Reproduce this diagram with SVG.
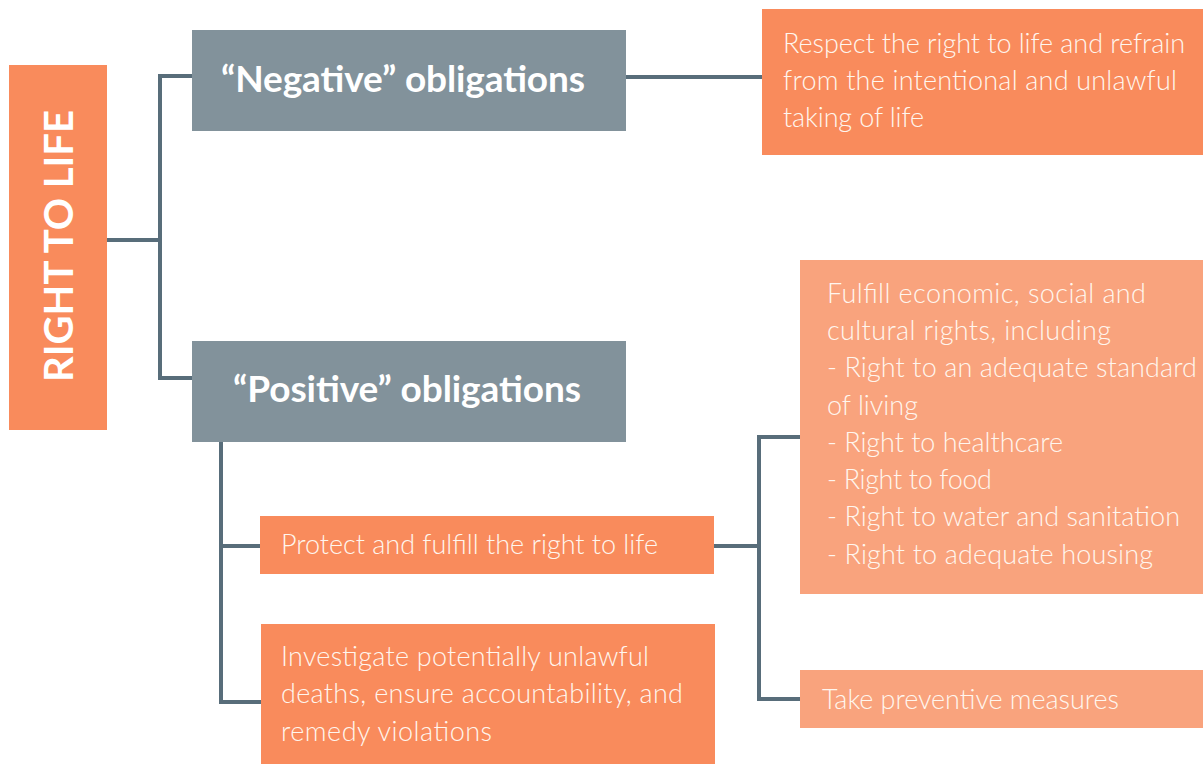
<svg xmlns="http://www.w3.org/2000/svg" width="1203" height="764" viewBox="0 0 1203 764">
<style>
.o{fill:#F98B5C}
.l{fill:#F9A37D}
.g{fill:#82929B}
.t{font-family:Lato,"Open Sans",sans-serif;font-weight:300;font-size:27px;fill:#FFF6EE}
.h{font-family:Lato,"Open Sans",sans-serif;font-weight:700;font-size:37px;fill:#FFFFFF}
.c{stroke:#586D7A;stroke-width:4;fill:none}
</style>
<rect width="1203" height="764" fill="#FFFFFF"/>
<g id="connectors">
<polyline class="c" points="107,240 160,240"/>
<polyline class="c" points="192,76 160,76 160,378 192,378"/>
<polyline class="c" points="626,77 762,77"/>
<polyline class="c" points="221,442 221,702 261,702"/>
<polyline class="c" points="221,546 260,546"/>
<polyline class="c" points="714,546 759,546"/>
<polyline class="c" points="800,437 759,437 759,699 800,699"/>
</g>
<g id="right-to-life">
<rect class="o" x="9" y="65" width="98" height="365"/>
<text class="h" style="font-size:40px" transform="translate(73,246) rotate(-90)" text-anchor="middle" textLength="272">RIGHT TO LIFE</text>
</g>
<g id="negative">
<rect class="g" x="192" y="30" width="434" height="101"/>
<text class="h" x="221" y="92" textLength="364">“Negative” obligations</text>
</g>
<g id="positive">
<rect class="g" x="192" y="341" width="434" height="101"/>
<text class="h" x="233" y="402" textLength="348">“Positive” obligations</text>
</g>
<g id="respect">
<rect class="o" x="762" y="9" width="441" height="146"/>
<text class="t" x="783" y="53" textLength="402">Respect the right to life and refrain</text>
<text class="t" x="783" y="90" textLength="394">from the intentional and unlawful</text>
<text class="t" x="783" y="127" textLength="141">taking of life</text>
</g>
<g id="fulfill">
<rect class="l" x="800" y="260" width="403" height="334"/>
<text class="t" x="827" y="303" textLength="319">Fulfill economic, social and</text>
<text class="t" x="827" y="340" textLength="284">cultural rights, including</text>
<text class="t" x="827" y="377" textLength="370">- Right to an adequate standard</text>
<text class="t" x="827" y="415" textLength="91">of living</text>
<text class="t" x="827" y="452" textLength="236">- Right to healthcare</text>
<text class="t" x="827" y="489" textLength="165">- Right to food</text>
<text class="t" x="827" y="526" textLength="353">- Right to water and sanitation</text>
<text class="t" x="827" y="564" textLength="326">- Right to adequate housing</text>
</g>
<g id="protect">
<rect class="o" x="260" y="516" width="454" height="58"/>
<text class="t" x="281" y="554" textLength="377">Protect and fulfill the right to life</text>
</g>
<g id="investigate">
<rect class="o" x="261" y="624" width="454" height="140"/>
<text class="t" x="281" y="666" textLength="368">Investigate potentially unlawful</text>
<text class="t" x="281" y="703" textLength="402">deaths, ensure accountability, and</text>
<text class="t" x="281" y="741" textLength="211">remedy violations</text>
</g>
<g id="preventive">
<rect class="l" x="800" y="670" width="403" height="58"/>
<text class="t" x="822" y="709" textLength="297">Take preventive measures</text>
</g>
</svg>
